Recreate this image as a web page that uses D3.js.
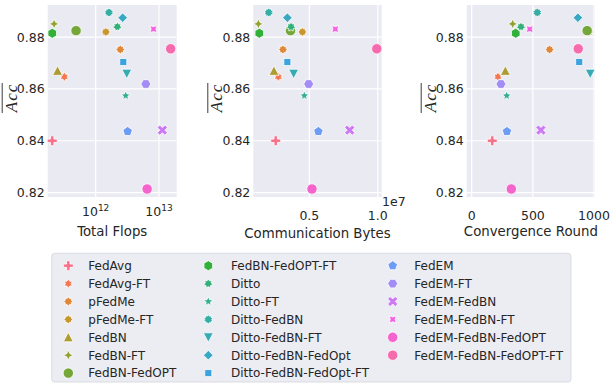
<!DOCTYPE html>
<head>
  <meta charset="utf-8">
  <script src="https://d3js.org/d3.v7.min.js"></script>
  <style>
    body { margin: 0; background: #fff; }
    svg { display: block; font-family: "DejaVu Sans", sans-serif; }
  </style>
</head>
<body>
  <svg width="610" height="388"></svg>
  <script>
    // methods, in legend / draw order
    var methods = ["FedAvg", "FedAvg-FT", "pFedMe", "pFedMe-FT", "FedBN", "FedBN-FT",
      "FedBN-FedOPT", "FedBN-FedOPT-FT", "Ditto", "Ditto-FT", "Ditto-FedBN", "Ditto-FedBN-FT",
      "Ditto-FedBN-FedOpt", "Ditto-FedBN-FedOpt-FT", "FedEM", "FedEM-FT", "FedEM-FedBN",
      "FedEM-FedBN-FT", "FedEM-FedBN-FedOPT", "FedEM-FedBN-FedOPT-FT"];

    var acc = [0.840, 0.8647, 0.8752, 0.882, 0.867, 0.8851, 0.8825, 0.8815, 0.884, 0.8574,
      0.8895, 0.8659, 0.8875, 0.8704, 0.8436, 0.8619, 0.8441, 0.8831, 0.8214, 0.8755];

    var totalFlops = [2.06e11, 3.2e11, 2.45e12, 1.45e12, 2.5e11, 2.2e11, 4.9e11, 2.06e11, 2.2e12, 2.98e12,
      1.62e12, 3.1e12, 2.67e12, 2.73e12, 3.2e12, 6.2e12, 1.13e13, 8.2e12, 6.5e12, 1.53e13];

    var commBytes = [2.54e6, 2.73e6, 3.07e6, 4.49e6, 2.41e6, 1.27e6, 3.62e6, 1.34e6, 3.66e6, 4.63e6,
      2.03e6, 3.85e6, 3.39e6, 3.39e6, 5.66e6, 4.95e6, 7.95e6, 6.9e6, 5.19e6, 9.93e6];

    var convRound = [168, 215, 637, 958, 275, 335, 944, 360, 403, 286,
      536, 969, 868, 879, 288, 239, 566, 474, 324, 871];

    var yTicks = [0.82, 0.84, 0.86, 0.88];

    // styles
    var colors = ["#f7718a", "#f5764f", "#e0883a", "#c8962f", "#ad9c31", "#93a131", "#74a63a",
      "#33b039", "#33b07a", "#35ae93", "#36ada4", "#37abb4", "#39a8c5", "#3ca2e0",
      "#6d9cf4", "#a38cf4", "#cc79f4", "#f45fe4", "#f564cc", "#f66bad"];
    var shapes = ["P", "star6", "star8", "star8", "^", "star4", "o", "h", "star7", "*",
      "star10", "v", "D", "s", "p", "H", "X", "star4r", "o", "o"];

    function poly(n, r, rot) {
      var pts = [];
      for (var i = 0; i < n; i++) {
        var a = (rot + i * 360 / n) * Math.PI / 180;
        pts.push([r * Math.sin(a), -r * Math.cos(a)]);
      }
      return "M" + pts.join("L") + "Z";
    }
    function star(n, r, ri, rot) {
      var pts = [];
      for (var i = 0; i < 2 * n; i++) {
        var a = (rot + i * 180 / n) * Math.PI / 180;
        var rr = i % 2 ? ri : r;
        pts.push([rr * Math.sin(a), -rr * Math.cos(a)]);
      }
      return "M" + pts.join("L") + "Z";
    }
    function cross(r, rot) {
      var w = r / 3;
      var pts = [[-w, -r], [w, -r], [w, -w], [r, -w], [r, w], [w, w], [w, r], [-w, r], [-w, w], [-r, w], [-r, -w], [-w, -w]];
      var c = Math.cos(rot * Math.PI / 180), s = Math.sin(rot * Math.PI / 180);
      pts = pts.map(function (p) { return [p[0] * c - p[1] * s, p[0] * s + p[1] * c]; });
      return "M" + pts.join("L") + "Z";
    }
    function marker(t) {
      switch (t) {
        case "o": return d3.symbol(d3.symbolCircle, Math.PI * 27)();
        case "P": return cross(5, 0);
        case "X": return cross(5.4, 45);
        case "^": return "M0,-5L5,4.5L-5,4.5Z";
        case "v": return "M0,5L5,-4.5L-5,-4.5Z";
        case "D": return poly(4, 4.8, 0);
        case "s": return poly(4, 5, 45);
        case "p": return poly(5, 5, 0);
        case "h": return poly(6, 5, 0);
        case "H": return poly(6, 5, 30);
        case "*": return star(5, 5, 2.2, 0);
        case "star4": return star(4, 5.2, 2.2, 0);
        case "star4r": return star(4, 5, 2.4, 45);
        case "star6": return star(6, 4.8, 2.8, 0);
        case "star7": return star(7, 4.8, 3, 0);
        case "star8": return star(8, 4.8, 3.2, 0);
        case "star10": return star(10, 4.8, 3.4, 0);
      }
    }

    var svg = d3.select("svg");
    var plotTop = 5, plotBottom = 197;
    var y = d3.scaleLinear().domain([0.8183, 0.8924]).range([plotBottom, plotTop]);

    var panels = [
      { left: 47.7, right: 176.7, vals: totalFlops, label: "Total Flops", labelY: 236,
        scale: d3.scaleLog().domain([Math.pow(10, 11.242), Math.pow(10, 13.28)]), ticks: [1e12, 1e13], log: true },
      { left: 253.3, right: 381.7, vals: commBytes, label: "Communication Bytes", labelY: 237.5,
        scale: d3.scaleLinear().domain([0.9e6, 1.029e7]), ticks: [5e6, 1e7], fmt: function (d) { return (d / 1e7).toFixed(1); } },
      { left: 466.7, right: 595, vals: convRound, label: "Convergence Round", labelY: 236,
        scale: d3.scaleLinear().domain([-41, 1008]), ticks: [0, 500, 1000], fmt: function (d) { return d; } }
    ];

    panels.forEach(function (p) {
      var x = p.scale.range([p.left, p.right]);
      var g = svg.append("g");
      g.append("rect").attr("x", p.left).attr("y", plotTop)
        .attr("width", p.right - p.left).attr("height", plotBottom - plotTop).attr("fill", "#eaeaf2");

      g.selectAll(".gy").data(yTicks).enter().append("line")
        .attr("x1", p.left).attr("x2", p.right)
        .attr("y1", function (d) { return y(d); }).attr("y2", function (d) { return y(d); })
        .attr("stroke", "#fff").attr("stroke-width", 1.2);
      g.selectAll(".gx").data(p.ticks).enter().append("line")
        .attr("y1", plotTop).attr("y2", plotBottom)
        .attr("x1", function (d) { return x(d); }).attr("x2", function (d) { return x(d); })
        .attr("stroke", "#fff").attr("stroke-width", 1.2);

      // y tick labels
      g.selectAll(".ty").data(yTicks).enter().append("text")
        .attr("x", p.left - 3).attr("y", function (d) { return y(d); })
        .attr("dy", "0.36em").attr("text-anchor", "end")
        .attr("font-size", 12.5).attr("fill", "#262626")
        .text(function (d) { return d.toFixed(2); });

      // x tick labels
      var tx = g.selectAll(".tx").data(p.ticks).enter().append("text")
        .attr("x", function (d) { return x(d); })
        .attr("text-anchor", "middle").attr("font-size", 12.5).attr("fill", "#262626");
      if (p.log) {
        tx.attr("y", 216);
        tx.append("tspan").text("10");
        tx.append("tspan").attr("dy", -5).attr("font-size", 9)
          .text(function (d) { return Math.round(Math.log10(d)); });
      } else {
        tx.attr("y", 219.5).text(p.fmt);
      }

      g.append("text").attr("x", (p.left + p.right) / 2).attr("y", p.labelY)
        .attr("text-anchor", "middle").attr("font-size", 13.3).attr("fill", "#262626")
        .text(p.label);

      // y label: overline Acc
      var ly = g.append("g").attr("transform", "translate(" + (p.left - 36) + "," + 98 + ") rotate(-90)");
      ly.append("text").attr("text-anchor", "middle").attr("y", 5)
        .attr("font-family", "'Liberation Serif', serif").attr("font-style", "italic")
        .attr("font-size", 17).attr("fill", "#262626").attr("letter-spacing", 1).text("Acc");
      ly.append("line").attr("x1", -15).attr("x2", 15).attr("y1", -9.5).attr("y2", -9.5)
        .attr("stroke", "#262626").attr("stroke-width", 0.9);

      g.selectAll(".pt").data(methods).enter().append("path")
        .attr("d", function (d, i) { return marker(shapes[i]); })
        .attr("transform", function (d, i) { return "translate(" + x(p.vals[i]) + "," + y(acc[i]) + ")"; })
        .attr("fill", function (d, i) { return colors[i]; })
        .attr("stroke", "#fff").attr("stroke-width", 0.8);
    });

    // offset text for communication bytes
    svg.append("text").attr("x", 382).attr("y", 206).attr("font-size", 12.5)
      .attr("fill", "#262626").text("1e7");

    // legend
    var leg = svg.append("g");
    leg.append("rect").attr("x", 51.7).attr("y", 253.3).attr("width", 519.3).attr("height", 128.7)
      .attr("rx", 3).attr("fill", "#ececf3").attr("stroke", "#d4d4dc").attr("stroke-width", 0.8);
    var colX = [[68.3, 88.3], [208.3, 231], [392.7, 414.3]];
    var rowsPerCol = 7;
    methods.forEach(function (m, i) {
      var c = Math.floor(i / rowsPerCol), r = i % rowsPerCol;
      var cy = 265.7 + r * 17.9;
      leg.append("path").attr("d", marker(shapes[i]))
        .attr("transform", "translate(" + colX[c][0] + "," + cy + ")")
        .attr("fill", colors[i]).attr("stroke", "#fff").attr("stroke-width", 0.8);
      leg.append("text").attr("x", colX[c][1]).attr("y", cy).attr("dy", "0.36em")
        .attr("font-size", 12).attr("fill", "#262626").text(m);
    });
  </script>
</body>
